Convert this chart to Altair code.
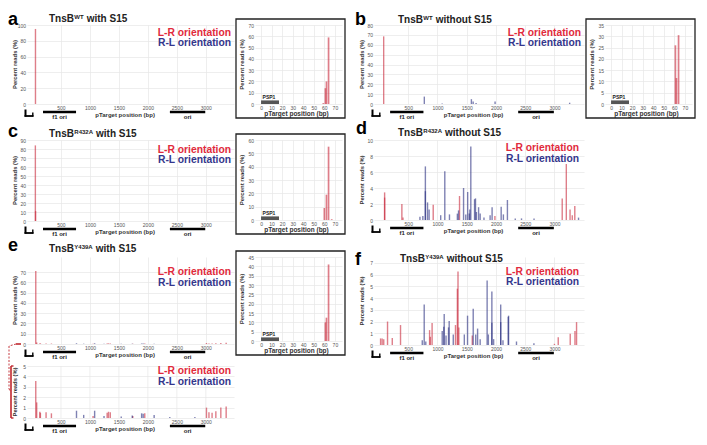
import altair as alt
import pandas as pd

FONT = "Liberation Sans"
RED = "#c8283a"
BLUE = "#2a2e80"
LEG_RED = "#e12a3c"
LEG_BLUE = "#34368c"
GRID = "#e6e6e6"
INK = "#222222"

# ---------------- data ----------------
XTICKS = [500, 1000, 1500, 2000, 2500, 3000]
INSET_XTICKS = [0, 10, 20, 30, 40, 50, 60, 70]
FEATURE_NAMES = ["f1 ori", "ori"]
FEATURE_START = [190, 2380]
FEATURE_END = [760, 2990]
PSP1 = [0, 17]

# panel a  (TnsB WT with S15)
A_LR_POS = [60]
A_LR_VAL = [95]
A_RL_POS = []
A_RL_VAL = []
IA_POS = [59, 61, 62, 64]
IA_VAL = [0.8, 14, 20, 59]

# panel b  (TnsB WT without S15)
B_LR_POS = [80]
B_LR_VAL = [68.5]
B_RL_POS = [775, 1080, 1580, 1610, 1660, 1985, 3260]
B_RL_VAL = [7.5, 0.6, 4.9, 2.6, 1.0, 2.6, 1.3]
IB_POS = [61, 62, 64]
IB_VAL = [26, 11.5, 30.5]

# panel c  (TnsB R432A with S15)
C_LR_POS = [58, 62]
C_LR_VAL = [84, 11]
C_RL_POS = []
C_RL_VAL = []
IC_POS = [60, 62, 64, 67]
IC_VAL = [9, 19, 55, 0.6]

# panel d  (TnsB R432A without S15)
D_LR_POS = [96, 96, 391, 410, 927, 1377, 1982, 3133, 3203, 3267, 3305, 3348]
D_LR_VAL = [3.45, 2.8, 2.0, 0.3, 1.9, 3.0, 0.5, 2.7, 7.0, 1.3, 0.6, 1.75]
D_RL_POS = [700, 750, 793, 793, 830, 857, 1055, 1125, 1205, 1340, 1360, 1446, 1484,
            1516, 1543, 1553, 1570, 1634, 1650, 1666, 1703, 1730, 1795, 1900, 1934,
            2089, 2127, 2196, 2330, 2437, 2651, 3412]
D_RL_VAL = [0.4, 0.5, 6.7, 3.6, 2.2, 1.3, 0.6, 6.1, 0.7, 0.8, 1.2, 4.0, 0.7,
            3.5, 0.8, 1.3, 9.2, 2.6, 2.7, 1.0, 1.6, 0.8, 0.3, 0.6, 1.6,
            1.65, 0.7, 2.5, 0.2, 0.2, 0.2, 0.3]

# panel e  (TnsB Y439A with S15) and its 0-5 % zoom
E_LR_POS = [65, 81, 135, 145, 243, 335, 1054, 1297, 1320, 1351, 1740, 1946,
            3011, 3054, 3108, 3173, 3259, 3351]
E_LR_VAL = [71, 1.5, 0.6, 0.5, 0.55, 0.45, 0.2, 0.5, 0.6, 0.55, 0.2, 0.45,
            1.0, 0.55, 0.5, 0.65, 1.0, 1.1]
E_RL_POS = [768, 892, 1081, 1243, 1540, 1730, 1892, 1919, 2108, 2378, 2811]
E_RL_VAL = [0.7, 0.3, 0.7, 0.2, 0.15, 0.25, 0.45, 0.4, 0.3, 0.1, 0.1]
IE_POS = [61, 62, 64]
IE_VAL = [10, 12.5, 41]

# panel f  (TnsB Y439A without S15)
F_LR_POS = [27, 54, 81, 146, 227, 368, 865, 878, 908, 1308, 1340, 1351, 1365, 1595,
            3000, 3065, 3270, 3351, 3378]
F_LR_VAL = [0.56, 0.56, 0.5, 2.0, 0.6, 1.7, 1.27, 0.7, 1.87, 1.7, 4.8, 6.27, 1.5, 0.8,
            0.1, 0.65, 0.95, 1.2, 1.95]
F_RL_POS = [740, 773, 800, 1081, 1108, 1115, 1146, 1189, 1200, 1270, 1459, 1514, 1611,
            1654, 1686, 1730, 1849, 1870, 1930, 1930, 1960, 2081, 2081, 2120, 2210,
            2216, 2351, 2649]
F_RL_VAL = [0.4, 3.45, 0.3, 1.2, 1.55, 2.65, 0.8, 1.5, 2.05, 0.9, 0.9, 2.5, 3.1,
            0.9, 1.4, 0.5, 5.5, 0.9, 4.55, 1.9, 0.5, 3.45, 1.95, 0.4, 2.4,
            2.5, 0.3, 0.15]

# --------------- helpers ---------------
CW = {"T": .611, "n": .611, "s": .556, "B": .722, "W": .944, "R": .722, "A": .722,
      "Y": .667, "4": .556, "3": .556, "2": .556, "9": .556, " ": .278}


def tw(s, size):
    return sum(CW.get(c, .6) for c in s) * size


def T(s, x, y, size, color=INK, weight="bold", align="left", angle=0, baseline="alphabetic"):
    kw = dict(align=align, baseline=baseline, fontSize=size, font=FONT,
              fontWeight=weight, color=color)
    if angle:
        kw["angle"] = angle
    return alt.Chart(pd.DataFrame({"t": [s]})).mark_text(**kw).encode(
        x=alt.value(x), y=alt.value(y), text="t:N")


def R(x1, y1, x2, y2, color="black", width=1.0, dash=None):
    kw = dict(color=color, strokeWidth=width)
    if dash:
        kw["strokeDash"] = dash
    return alt.Chart(pd.DataFrame({"k": [0]})).mark_rule(**kw).encode(
        x=alt.value(x1), y=alt.value(y1), x2=alt.value(x2), y2=alt.value(y2))


def spacer(w, h=1):
    return alt.Chart(pd.DataFrame({"k": [0]})).mark_point(opacity=0).encode(
        x=alt.value(0), y=alt.value(0)).properties(width=w, height=h)


def bars(lr_pos, lr_val, rl_pos, rl_val, xs, ys, xaxis, yaxis, size, clip=False):
    df = pd.DataFrame({"pos": list(lr_pos) + list(rl_pos),
                       "val": list(lr_val) + list(rl_val),
                       "orient": ["L-R"] * len(lr_pos) + ["R-L"] * len(rl_pos)})
    return alt.Chart(df).mark_bar(size=size, opacity=0.6, orient="vertical", clip=clip).encode(
        x=alt.X("pos:Q", scale=xs, axis=xaxis),
        y=alt.Y("val:Q", scale=ys, axis=yaxis, stack=None),
        color=alt.Color("orient:N", scale=alt.Scale(domain=["L-R", "R-L"], range=[RED, BLUE]),
                        legend=None))


def axis(values, grid=True):
    return alt.Axis(values=values, grid=grid, gridColor=GRID, gridWidth=0.7, ticks=False,
                    domain=False, labelFontSize=5, labelColor="#555", labelPadding=1.5,
                    labelFont=FONT, title=None, format="d")


def title_layers(title, x0, y0):
    pre, sup, post = title
    x1 = x0 + tw(pre, 10) + 0.3
    x2 = x1 + tw(sup, 6) + 0.3 + tw(" ", 10)
    return [T(pre, x0, y0, 10), T(sup, x1, y0 - 3, 6), T(post, x2, y0, 10)]


def main_panel(lr_pos, lr_val, rl_pos, rl_val, w, h, ymax, yticks, xmax=3400, top=0,
               letter=None, letter_dx=-19, letter_dy=-2, title=None, title_dx=22, title_dy=-3,
               leg_dy=10.8, leg_dx=-3, clip=False, extra=()):
    # top: pixel position of the plot's upper edge (may lie above the cell)
    xs = alt.Scale(domain=[0, xmax], nice=False, zero=False)
    ys = alt.Scale(domain=[0, ymax], nice=False, range=[h, top])
    xa = axis(XTICKS, grid=(top == 0))
    layers = []
    if top != 0:
        gl = pd.DataFrame({"pos": XTICKS})
        layers.append(alt.Chart(gl).mark_rule(color=GRID, strokeWidth=0.7).encode(
            x=alt.X("pos:Q", scale=xs, axis=xa), y=alt.value(top), y2=alt.value(h)))
    layers.append(bars(lr_pos, lr_val, rl_pos, rl_val, xs, ys, xa, axis(yticks), 1.4, clip))
    feat = pd.DataFrame({"pos": FEATURE_START, "end": FEATURE_END, "name": FEATURE_NAMES})
    feat["mid"] = (feat["pos"] + feat["end"]) / 2
    layers.append(alt.Chart(feat).mark_rule(strokeWidth=2.6, color="black").encode(
        x=alt.X("pos:Q", scale=xs, axis=xa), x2="end:Q", y=alt.value(h + 8)))
    layers.append(alt.Chart(feat).transform_calculate(pos="datum.mid").mark_text(
        fontSize=6, font=FONT, fontWeight="bold", color=INK, baseline="alphabetic").encode(
        x=alt.X("pos:Q", scale=xs, axis=xa), y=alt.value(h + 14.5), text="name:N"))
    layers.append(T("pTarget position (bp)", w * 0.474, h + 12.5, 6, color="#333", align="center"))
    # U-shaped transposon-end glyph
    layers += [R(-1.5, h + 5.5, -1.5, h + 12.6, width=2),
               R(-2.5, h + 12, 6.5, h + 12, width=1.8),
               R(5.8, h + 8.5, 5.8, h + 12.6, width=1.4)]
    layers.append(T("Percent reads (%)", -12.5, (h + top) / 2, 5.8, color="#333", align="center",
                    angle=270, baseline="middle"))
    layers.append(T("L-R orientation", w + leg_dx, top + leg_dy, 10.3, color=LEG_RED, align="right"))
    layers.append(T("R-L orientation", w + leg_dx, top + leg_dy + 10.6, 10.3, color=LEG_BLUE,
                    align="right"))
    if title:
        layers += title_layers(title, title_dx, title_dy)
    if letter:
        layers.append(T(letter, letter_dx, letter_dy, 18, color="black"))
    layers += list(extra)
    return alt.layer(*layers).properties(width=w, height=h)


def inset_panel(pos, val, w, h, ymax, yticks):
    xs = alt.Scale(domain=[-1, 72], nice=False, zero=False)
    ys = alt.Scale(domain=[0, ymax], nice=False)
    xa = axis(INSET_XTICKS)
    layers = [bars(pos, val, [], [], xs, ys, xa, axis(yticks), 1.7)]
    psp = pd.DataFrame({"pos": [PSP1[0]], "end": [PSP1[1]], "name": ["PSP1"]})
    psp["mid"] = (psp["pos"] + psp["end"]) / 2 - 1
    layers.append(alt.Chart(psp).mark_rect(color="#555555").encode(
        x=alt.X("pos:Q", scale=xs, axis=xa), x2="end:Q",
        y=alt.value(h - 3.6), y2=alt.value(h)))
    layers.append(alt.Chart(psp).transform_calculate(pos="datum.mid").mark_text(
        fontSize=5, font=FONT, fontWeight="bold", color=INK, baseline="alphabetic").encode(
        x=alt.X("pos:Q", scale=xs, axis=xa), y=alt.value(h - 5), text="name:N"))
    layers.append(T("pTarget position (bp)", w / 2 - 2, h + 12, 6.5, color="#333", align="center"))
    layers.append(T("Percent reads (%)", -13, h / 2, 6, color="#333", align="center",
                    angle=270, baseline="middle"))
    frame = alt.Chart(pd.DataFrame({"k": [0]})).mark_rect(
        fill="transparent", stroke="#222222", strokeWidth=1.3).encode(
        x=alt.value(-19), x2=alt.value(w + 3), y=alt.value(-6), y2=alt.value(h + 14))
    layers.append(frame)
    return alt.layer(*layers).properties(width=w, height=h)


WL, WR, WI = 207, 210, 87
COL2 = 98       # width reserved for the inset column
SC, SR = 21, 36  # column / row spacing

A = main_panel(A_LR_POS, A_LR_VAL, A_RL_POS, A_RL_VAL, WL, 79, 100, list(range(0, 101, 20)),
               letter="a", title=("TnsB", "WT", "with S15"), title_dy=-3, letter_dy=-0.5)
IA = inset_panel(IA_POS, IA_VAL, WI, 79, 70, list(range(0, 71, 10)))
B = main_panel(B_LR_POS, B_LR_VAL, B_RL_POS, B_RL_VAL, WR, 79, 80, list(range(0, 81, 10)),
               xmax=3420, letter="b", letter_dx=-19, title=("TnsB", "WT", "without S15"),
               title_dx=24, title_dy=-2.5, letter_dy=-0.5)
IB = inset_panel(IB_POS, IB_VAL, WI, 79, 35, list(range(0, 36, 5)))

C = main_panel(C_LR_POS, C_LR_VAL, C_RL_POS, C_RL_VAL, WL, 81, 90, list(range(0, 91, 10)),
               letter="c", title=("TnsB", "R432A", "with S15"), title_dy=-3.5, letter_dy=-3,
               leg_dy=12.8)
IC = inset_panel(IC_POS, IC_VAL, WI, 80, 60, list(range(0, 61, 10)))
D = main_panel(D_LR_POS, D_LR_VAL, D_RL_POS, D_RL_VAL, WR, 80, 10, list(range(0, 11, 2)),
               xmax=3420, letter="d", letter_dx=-18, title=("TnsB", "R432A", "without S15"),
               title_dx=24, title_dy=-4, letter_dy=-6, leg_dy=11, leg_dx=-5)

E = main_panel(E_LR_POS, E_LR_VAL, E_RL_POS, E_RL_VAL, WL, 87, 84.6, list(range(0, 71, 10)),
               letter="e", title=("TnsB", "Y439A", "with S15"), title_dy=-5, letter_dy=-6,
               leg_dy=18)
IE = inset_panel(IE_POS, IE_VAL, WI, 84, 45, list(range(0, 46, 5)))
F = main_panel(F_LR_POS, F_LR_VAL, F_RL_POS, F_RL_VAL, WR, 88, 7.5, list(range(0, 8)),
               xmax=3420, letter="f", letter_dx=-19, title=("TnsB", "Y439A", "without S15"),
               title_dx=26, title_dy=4.7, letter_dy=8, leg_dy=17.5, leg_dx=-5)

# zoomed (0-5 %) view of panel e: its plot top sits above its grid cell
R3H = 88
EZ_TOP_FROM_R3 = 109
EZ_H = 52
ez_top = EZ_TOP_FROM_R3 - (R3H + SR)        # negative: plot starts above the cell
ez_cell_h = ez_top + EZ_H
e_bottom = 87 - (R3H + SR)                  # panel e baseline, in the zoom cell's pixels
ZRED = "#c0282f"
connector = [
    R(-11, e_bottom, -6, e_bottom, color=ZRED, width=1.6),
    R(-11, e_bottom, -18, e_bottom + 2, color=ZRED, width=0.9, dash=[2, 1.5]),
    R(-18, e_bottom + 2, -18, ez_top + 23, color=ZRED, width=0.9, dash=[2, 1.5]),
    R(-18, ez_top + 23, -16, ez_top + 26, color=ZRED, width=0.9, dash=[2, 1.5]),
    R(-16, ez_top, -16, ez_cell_h, color=ZRED, width=1.6),
    R(-16, ez_top, -13.5, ez_top, color=ZRED, width=1.4),
    R(-16, ez_cell_h, -13.5, ez_cell_h, color=ZRED, width=1.4),
]
EZ = main_panel(E_LR_POS, E_LR_VAL, E_RL_POS, E_RL_VAL, WL, ez_cell_h, 5, list(range(0, 6)),
                top=ez_top, leg_dy=8.2, clip=True, extra=connector)

chart = alt.concat(
    A, IA, B, IB,
    C, IC, D, spacer(WI),
    E, IE, F, spacer(WI),
    EZ, spacer(COL2), spacer(WR), spacer(WI),
    columns=4, spacing={"row": SR, "column": SC}, bounds="flush", align="each",
).properties(padding={"top": 2, "left": 0, "right": 0, "bottom": 0},
             background="white").configure_view(stroke=None)

chart.save("out.html", embed_options={"renderer": "svg", "actions": False})
